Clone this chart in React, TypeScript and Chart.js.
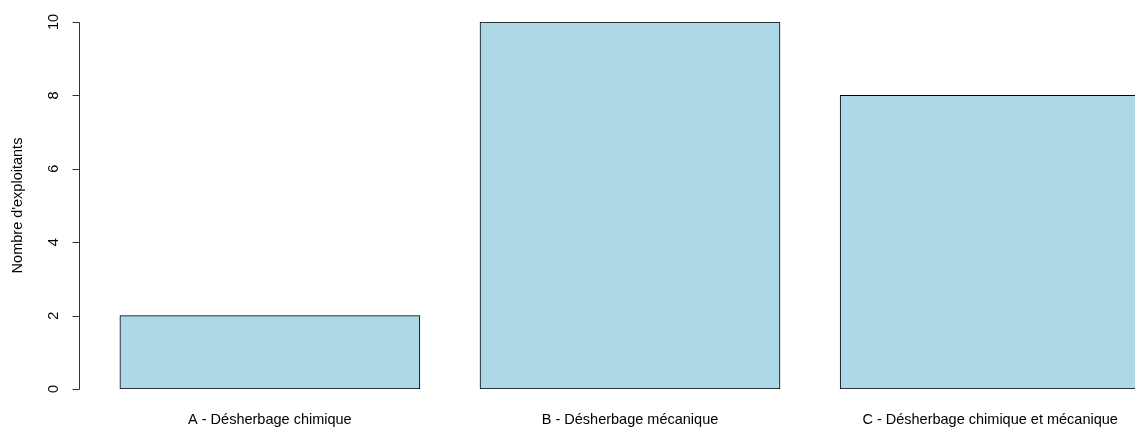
import React, { useEffect, useRef } from "react";
import { Chart, registerables } from "chart.js";

Chart.register(...registerables);

const categories = [
  "A - Désherbage chimique",
  "B - Désherbage mécanique",
  "C - Désherbage chimique et mécanique",
];
const counts = [2, 10, 8];
const yTicks = [0, 2, 4, 6, 8, 10];
const yTitle = "Nombre d'exploitants";

const BAR_WIDTH = 1;
const SPACE = 0.2;

export default function App() {
  const ref = useRef<HTMLCanvasElement | null>(null);

  useEffect(() => {
    const canvas = ref.current;
    if (!canvas) return;
    const positions = categories.map((_, i) => SPACE + i * (BAR_WIDTH + SPACE) + BAR_WIDTH / 2);
    const left = SPACE;
    const right = SPACE + categories.length * (BAR_WIDTH + SPACE) - SPACE;
    const ext = (right - left) * 0.04;
    const font = "14.5px 'Liberation Sans', Arial, sans-serif";

    const rAxes = {
      id: "rAxes",
      afterDraw(chart: any) {
        const ctx = chart.ctx as CanvasRenderingContext2D;
        const xs = chart.scales.x;
        const ys = chart.scales.y;
        const ax = Math.round(chart.chartArea.left) + 0.5;
        ctx.save();
        ctx.strokeStyle = "#333";
        ctx.lineWidth = 1;
        ctx.beginPath();
        ctx.moveTo(ax, Math.round(ys.getPixelForValue(yTicks[0])) + 0.5);
        ctx.lineTo(ax, Math.round(ys.getPixelForValue(yTicks[yTicks.length - 1])) + 0.5);
        yTicks.forEach((t) => {
          const py = Math.round(ys.getPixelForValue(t)) + 0.5;
          ctx.moveTo(ax, py);
          ctx.lineTo(ax - 7, py);
        });
        ctx.stroke();
        ctx.fillStyle = "#000";
        ctx.font = font;
        ctx.textAlign = "center";
        ctx.textBaseline = "middle";
        yTicks.forEach((t) => {
          const py = ys.getPixelForValue(t);
          ctx.save();
          ctx.translate(ax - 26, py);
          ctx.rotate(-Math.PI / 2);
          ctx.fillText(String(t), 0, 0);
          ctx.restore();
        });
        ctx.save();
        ctx.translate(18, (ys.getPixelForValue(0) + ys.getPixelForValue(10)) / 2);
        ctx.rotate(-Math.PI / 2);
        ctx.fillText(yTitle, 0, 0);
        ctx.restore();
        categories.forEach((c, i) => {
          ctx.fillText(c, xs.getPixelForValue(positions[i]), chart.chartArea.bottom + 31);
        });
        ctx.restore();
      },
    };

    const chart = new Chart(canvas, {
      type: "bar",
      data: {
        datasets: [
          {
            data: positions.map((x, i) => ({ x, y: counts[i] })),
            backgroundColor: "#ADD8E6",
            borderColor: "#000",
            borderWidth: 1,
            borderSkipped: false,
            barThickness: 300,
          },
        ],
      },
      options: {
        animation: false,
        responsive: false,
        layout: { padding: { left: 79, right: 19, top: 22, bottom: 38 } },
        plugins: { legend: { display: false }, tooltip: { enabled: false } },
        scales: {
          x: { type: "linear", offset: false, min: left - ext, max: right + ext, display: false },
          y: { min: 0, max: 10, display: false },
        },
      },
      plugins: [rAxes],
    });
    return () => chart.destroy();
  }, []);

  return (
    <div style={{ position: "fixed", left: 0, top: 0, width: 1135, height: 427, overflow: "hidden", background: "#fff" }}>
      <canvas ref={ref} width={1200} height={427} style={{ width: 1200, height: 427, display: "block" }} />
    </div>
  );
}
